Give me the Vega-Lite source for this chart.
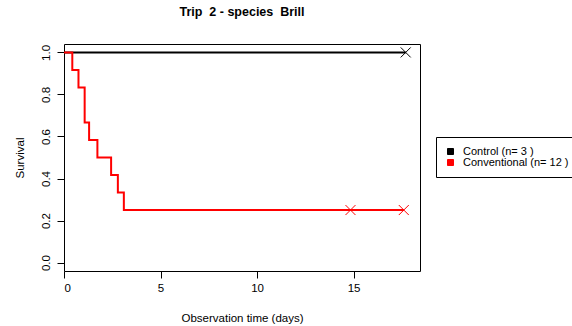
{
  "$schema": "https://vega.github.io/schema/vega-lite/v6.json",
  "width": 356,
  "height": 227,
  "autosize": {"type": "none"},
  "padding": {"left": 64, "top": 44, "right": 152, "bottom": 55},
  "background": "white",
  "title": {
    "text": "Trip\u00a0 2 - species\u00a0 Brill",
    "font": "Liberation Sans",
    "fontSize": 12.5,
    "fontWeight": "bold",
    "color": "black",
    "anchor": "middle",
    "offset": 26
  },
  "config": {
    "view": {"stroke": "black", "strokeWidth": 1},
    "axis": {
      "domain": false,
      "grid": false,
      "tickColor": "black",
      "tickSize": 7,
      "labelFont": "Liberation Sans",
      "labelFontSize": 11.5,
      "labelColor": "black",
      "titleFont": "Liberation Sans",
      "titleFontSize": 11.5,
      "titleFontWeight": "normal",
      "titleColor": "black"
    }
  },
  "datasets": {
    "curves": [
      {"group": "Control (n= 3 )", "t": 0, "s": 1},
      {"group": "Control (n= 3 )", "t": 17.7, "s": 1},
      {"group": "Conventional (n= 12 )", "t": 0, "s": 1},
      {"group": "Conventional (n= 12 )", "t": 0.43, "s": 0.9167},
      {"group": "Conventional (n= 12 )", "t": 0.75, "s": 0.8333},
      {"group": "Conventional (n= 12 )", "t": 1.07, "s": 0.6667},
      {"group": "Conventional (n= 12 )", "t": 1.3, "s": 0.5833},
      {"group": "Conventional (n= 12 )", "t": 1.73, "s": 0.5},
      {"group": "Conventional (n= 12 )", "t": 2.44, "s": 0.4167},
      {"group": "Conventional (n= 12 )", "t": 2.79, "s": 0.3333},
      {"group": "Conventional (n= 12 )", "t": 3.1, "s": 0.25},
      {"group": "Conventional (n= 12 )", "t": 17.6, "s": 0.25}
    ],
    "censored": [
      {"group": "Control (n= 3 )", "t": 17.7, "s": 1},
      {"group": "Conventional (n= 12 )", "t": 14.84, "s": 0.25},
      {"group": "Conventional (n= 12 )", "t": 17.6, "s": 0.25}
    ]
  },
  "encoding": {
    "x": {
      "field": "t",
      "type": "quantitative",
      "scale": {"domain": [0, 18.44], "nice": false, "zero": false},
      "axis": {"title": "Observation time (days)", "values": [0, 5, 10, 15], "labelPadding": 4, "titlePadding": 19}
    },
    "y": {
      "field": "s",
      "type": "quantitative",
      "scale": {"domain": [-0.04, 1.04], "nice": false, "zero": false},
      "axis": {"title": "Survival", "values": [0, 0.2, 0.4, 0.6, 0.8, 1], "format": ".1f", "labelAngle": -90, "labelPadding": 6, "titlePadding": 15}
    }
  },
  "layer": [
    {
      "data": {"name": "curves"},
      "mark": {"type": "line", "interpolate": "step-after", "strokeWidth": 2},
      "encoding": {
        "color": {
          "field": "group",
          "type": "nominal",
          "scale": {"domain": ["Control (n= 3 )", "Conventional (n= 12 )"], "range": ["black", "#ff0000"]},
          "legend": {
            "title": null,
            "orient": "none",
            "legendX": 372,
            "legendY": 93,
            "strokeColor": "black",
            "padding": 9,
            "labelFont": "Liberation Sans",
            "labelFontSize": 11,
            "labelColor": "black",
            "labelOffset": 7,
            "labelLimit": 300,
            "rowPadding": -2,
            "symbolType": "square",
            "symbolSize": 36,
            "encode": {
              "symbols": {
                "update": {
                  "fill": {"scale": "color", "field": "value"},
                  "stroke": {"value": "black"},
                  "strokeWidth": {"value": 1},
                  "opacity": {"value": 1}
                }
              }
            }
          }
        }
      }
    },
    {
      "data": {"name": "censored"},
      "mark": {"type": "point", "shape": "M-1,-1L1,1M-1,1L1,-1", "size": 100, "filled": false, "strokeWidth": 1, "opacity": 1},
      "encoding": {
        "stroke": {
          "field": "group",
          "type": "nominal",
          "scale": {"domain": ["Control (n= 3 )", "Conventional (n= 12 )"], "range": ["black", "#ff0000"]},
          "legend": null
        }
      }
    }
  ]
}
